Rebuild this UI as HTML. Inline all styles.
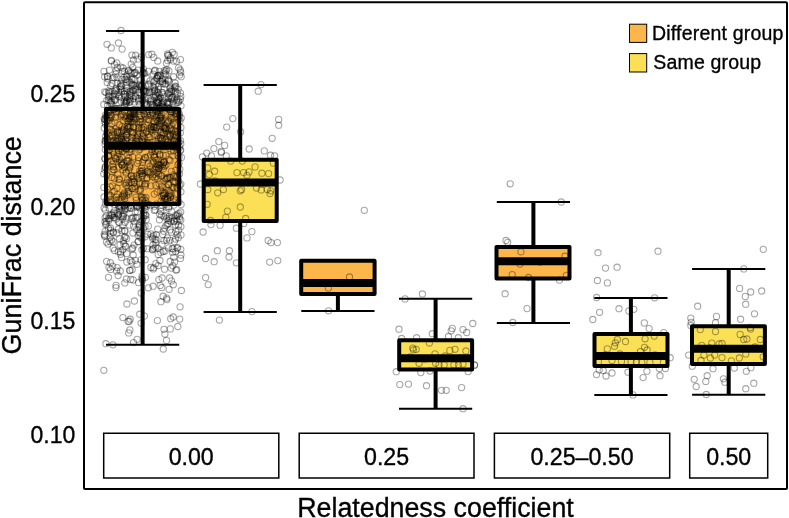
<!DOCTYPE html>
<html><head><meta charset="utf-8"><style>
html,body{margin:0;padding:0;background:#fff;}
svg{display:block;font-family:"Liberation Sans", sans-serif;}
text{filter:grayscale(1);stroke:#000;stroke-width:0.35px;}
</style></head><body>
<svg width="789" height="518" viewBox="0 0 789 518">
<rect x="0" y="0" width="789" height="518" fill="#fff"/>
<g><rect x="106.0" y="109.0" width="73.2" height="95.0" fill="#FCB64A"/><rect x="203.7" y="159.8" width="73.0" height="61.2" fill="#FBE055"/><rect x="301.2" y="260.8" width="73.4" height="33.2" fill="#FCB64A"/><rect x="399.2" y="340.2" width="72.9" height="29.3" fill="#FBE055"/><rect x="496.5" y="247.1" width="73.0" height="31.5" fill="#FCB64A"/><rect x="594.5" y="334.0" width="73.0" height="31.9" fill="#FBE055"/><rect x="692.0" y="326.3" width="72.9" height="37.6" fill="#FBE055"/></g>
<g fill="none" stroke="#000" stroke-opacity="0.35" stroke-width="1.1"><circle cx="173.6" cy="174.9" r="3.1"/><circle cx="113.2" cy="241.6" r="3.1"/><circle cx="145.2" cy="209.6" r="3.1"/><circle cx="107.5" cy="105.6" r="3.1"/><circle cx="176.9" cy="116.4" r="3.1"/><circle cx="117.0" cy="233.0" r="3.1"/><circle cx="135.6" cy="55.2" r="3.1"/><circle cx="146.2" cy="219.5" r="3.1"/><circle cx="159.7" cy="214.3" r="3.1"/><circle cx="176.7" cy="141.1" r="3.1"/><circle cx="161.0" cy="116.8" r="3.1"/><circle cx="130.7" cy="113.2" r="3.1"/><circle cx="109.5" cy="109.7" r="3.1"/><circle cx="158.8" cy="137.7" r="3.1"/><circle cx="179.5" cy="146.9" r="3.1"/><circle cx="104.9" cy="158.3" r="3.1"/><circle cx="164.0" cy="329.3" r="3.1"/><circle cx="117.3" cy="213.3" r="3.1"/><circle cx="139.5" cy="174.2" r="3.1"/><circle cx="144.4" cy="316.1" r="3.1"/><circle cx="151.5" cy="104.2" r="3.1"/><circle cx="180.8" cy="96.4" r="3.1"/><circle cx="157.2" cy="172.0" r="3.1"/><circle cx="134.2" cy="73.5" r="3.1"/><circle cx="159.4" cy="71.4" r="3.1"/><circle cx="140.0" cy="149.3" r="3.1"/><circle cx="135.8" cy="140.8" r="3.1"/><circle cx="132.1" cy="249.0" r="3.1"/><circle cx="142.1" cy="175.9" r="3.1"/><circle cx="125.5" cy="149.1" r="3.1"/><circle cx="122.5" cy="145.3" r="3.1"/><circle cx="115.2" cy="108.7" r="3.1"/><circle cx="137.9" cy="59.1" r="3.1"/><circle cx="126.5" cy="101.1" r="3.1"/><circle cx="168.9" cy="190.5" r="3.1"/><circle cx="169.7" cy="102.2" r="3.1"/><circle cx="130.4" cy="126.6" r="3.1"/><circle cx="151.9" cy="54.2" r="3.1"/><circle cx="174.0" cy="221.5" r="3.1"/><circle cx="131.6" cy="95.5" r="3.1"/><circle cx="146.9" cy="111.6" r="3.1"/><circle cx="138.2" cy="235.5" r="3.1"/><circle cx="154.3" cy="148.1" r="3.1"/><circle cx="178.5" cy="225.2" r="3.1"/><circle cx="114.4" cy="178.3" r="3.1"/><circle cx="178.9" cy="202.1" r="3.1"/><circle cx="155.5" cy="85.2" r="3.1"/><circle cx="165.7" cy="155.4" r="3.1"/><circle cx="153.1" cy="147.6" r="3.1"/><circle cx="171.5" cy="232.2" r="3.1"/><circle cx="129.0" cy="125.4" r="3.1"/><circle cx="158.8" cy="168.7" r="3.1"/><circle cx="124.2" cy="77.3" r="3.1"/><circle cx="143.3" cy="129.3" r="3.1"/><circle cx="156.8" cy="119.8" r="3.1"/><circle cx="119.3" cy="94.8" r="3.1"/><circle cx="108.4" cy="218.5" r="3.1"/><circle cx="165.3" cy="128.1" r="3.1"/><circle cx="166.7" cy="298.1" r="3.1"/><circle cx="155.5" cy="166.8" r="3.1"/><circle cx="128.7" cy="170.3" r="3.1"/><circle cx="154.9" cy="177.9" r="3.1"/><circle cx="110.1" cy="186.9" r="3.1"/><circle cx="155.3" cy="94.9" r="3.1"/><circle cx="148.5" cy="137.0" r="3.1"/><circle cx="151.7" cy="107.6" r="3.1"/><circle cx="138.5" cy="131.4" r="3.1"/><circle cx="121.2" cy="86.1" r="3.1"/><circle cx="160.2" cy="285.4" r="3.1"/><circle cx="139.8" cy="104.2" r="3.1"/><circle cx="161.7" cy="185.8" r="3.1"/><circle cx="132.0" cy="116.4" r="3.1"/><circle cx="110.4" cy="233.2" r="3.1"/><circle cx="145.9" cy="183.6" r="3.1"/><circle cx="152.2" cy="91.8" r="3.1"/><circle cx="175.5" cy="224.7" r="3.1"/><circle cx="172.8" cy="265.7" r="3.1"/><circle cx="108.1" cy="244.1" r="3.1"/><circle cx="163.8" cy="162.0" r="3.1"/><circle cx="124.0" cy="94.0" r="3.1"/><circle cx="158.0" cy="101.1" r="3.1"/><circle cx="133.2" cy="255.0" r="3.1"/><circle cx="128.7" cy="158.0" r="3.1"/><circle cx="141.7" cy="99.5" r="3.1"/><circle cx="145.0" cy="236.8" r="3.1"/><circle cx="157.8" cy="178.8" r="3.1"/><circle cx="153.4" cy="162.0" r="3.1"/><circle cx="156.5" cy="127.6" r="3.1"/><circle cx="133.6" cy="132.7" r="3.1"/><circle cx="156.4" cy="107.6" r="3.1"/><circle cx="130.5" cy="72.0" r="3.1"/><circle cx="151.0" cy="233.9" r="3.1"/><circle cx="139.4" cy="141.0" r="3.1"/><circle cx="147.5" cy="156.9" r="3.1"/><circle cx="105.0" cy="119.6" r="3.1"/><circle cx="142.5" cy="204.3" r="3.1"/><circle cx="120.8" cy="67.1" r="3.1"/><circle cx="133.7" cy="127.0" r="3.1"/><circle cx="109.4" cy="70.1" r="3.1"/><circle cx="154.8" cy="90.3" r="3.1"/><circle cx="173.3" cy="284.7" r="3.1"/><circle cx="131.3" cy="182.5" r="3.1"/><circle cx="111.8" cy="135.2" r="3.1"/><circle cx="152.0" cy="151.3" r="3.1"/><circle cx="113.5" cy="232.7" r="3.1"/><circle cx="173.1" cy="122.9" r="3.1"/><circle cx="113.2" cy="166.8" r="3.1"/><circle cx="131.8" cy="188.6" r="3.1"/><circle cx="142.2" cy="124.5" r="3.1"/><circle cx="112.8" cy="150.2" r="3.1"/><circle cx="128.5" cy="207.3" r="3.1"/><circle cx="125.1" cy="246.0" r="3.1"/><circle cx="159.2" cy="94.9" r="3.1"/><circle cx="180.5" cy="258.4" r="3.1"/><circle cx="131.9" cy="55.1" r="3.1"/><circle cx="165.3" cy="204.6" r="3.1"/><circle cx="114.5" cy="217.2" r="3.1"/><circle cx="148.8" cy="92.6" r="3.1"/><circle cx="137.4" cy="133.9" r="3.1"/><circle cx="126.1" cy="218.2" r="3.1"/><circle cx="167.7" cy="60.6" r="3.1"/><circle cx="161.8" cy="175.7" r="3.1"/><circle cx="114.1" cy="213.4" r="3.1"/><circle cx="126.4" cy="148.8" r="3.1"/><circle cx="167.5" cy="198.4" r="3.1"/><circle cx="181.0" cy="105.8" r="3.1"/><circle cx="151.3" cy="101.9" r="3.1"/><circle cx="171.6" cy="125.7" r="3.1"/><circle cx="180.4" cy="99.3" r="3.1"/><circle cx="161.4" cy="123.1" r="3.1"/><circle cx="153.9" cy="267.7" r="3.1"/><circle cx="120.9" cy="162.9" r="3.1"/><circle cx="132.5" cy="122.3" r="3.1"/><circle cx="152.2" cy="112.2" r="3.1"/><circle cx="175.9" cy="270.1" r="3.1"/><circle cx="127.1" cy="137.6" r="3.1"/><circle cx="134.4" cy="301.0" r="3.1"/><circle cx="105.3" cy="149.4" r="3.1"/><circle cx="157.9" cy="150.7" r="3.1"/><circle cx="138.2" cy="241.4" r="3.1"/><circle cx="165.8" cy="202.3" r="3.1"/><circle cx="121.8" cy="164.6" r="3.1"/><circle cx="155.1" cy="135.0" r="3.1"/><circle cx="156.1" cy="234.7" r="3.1"/><circle cx="139.8" cy="132.8" r="3.1"/><circle cx="118.3" cy="251.7" r="3.1"/><circle cx="135.0" cy="79.7" r="3.1"/><circle cx="161.7" cy="135.5" r="3.1"/><circle cx="118.4" cy="150.3" r="3.1"/><circle cx="110.6" cy="269.4" r="3.1"/><circle cx="139.7" cy="109.1" r="3.1"/><circle cx="121.9" cy="216.2" r="3.1"/><circle cx="166.0" cy="186.9" r="3.1"/><circle cx="167.3" cy="196.3" r="3.1"/><circle cx="177.3" cy="176.0" r="3.1"/><circle cx="169.1" cy="289.3" r="3.1"/><circle cx="154.1" cy="121.2" r="3.1"/><circle cx="118.2" cy="130.8" r="3.1"/><circle cx="167.8" cy="102.5" r="3.1"/><circle cx="160.4" cy="75.2" r="3.1"/><circle cx="161.9" cy="103.9" r="3.1"/><circle cx="158.0" cy="248.3" r="3.1"/><circle cx="168.3" cy="223.7" r="3.1"/><circle cx="126.8" cy="88.6" r="3.1"/><circle cx="156.1" cy="170.0" r="3.1"/><circle cx="143.9" cy="142.7" r="3.1"/><circle cx="130.0" cy="167.8" r="3.1"/><circle cx="129.1" cy="182.9" r="3.1"/><circle cx="115.7" cy="117.3" r="3.1"/><circle cx="141.9" cy="278.6" r="3.1"/><circle cx="132.4" cy="140.8" r="3.1"/><circle cx="136.5" cy="175.6" r="3.1"/><circle cx="170.0" cy="177.3" r="3.1"/><circle cx="156.8" cy="99.9" r="3.1"/><circle cx="156.7" cy="78.0" r="3.1"/><circle cx="180.4" cy="132.8" r="3.1"/><circle cx="120.6" cy="207.1" r="3.1"/><circle cx="143.2" cy="218.2" r="3.1"/><circle cx="110.8" cy="199.3" r="3.1"/><circle cx="134.2" cy="88.8" r="3.1"/><circle cx="177.7" cy="247.6" r="3.1"/><circle cx="110.3" cy="215.4" r="3.1"/><circle cx="162.7" cy="234.5" r="3.1"/><circle cx="171.1" cy="151.2" r="3.1"/><circle cx="143.3" cy="248.4" r="3.1"/><circle cx="165.8" cy="74.2" r="3.1"/><circle cx="138.0" cy="70.1" r="3.1"/><circle cx="131.2" cy="64.1" r="3.1"/><circle cx="143.0" cy="109.4" r="3.1"/><circle cx="118.8" cy="108.8" r="3.1"/><circle cx="127.6" cy="100.4" r="3.1"/><circle cx="127.4" cy="161.4" r="3.1"/><circle cx="180.7" cy="72.2" r="3.1"/><circle cx="129.7" cy="166.8" r="3.1"/><circle cx="121.5" cy="97.4" r="3.1"/><circle cx="176.9" cy="187.2" r="3.1"/><circle cx="114.4" cy="64.6" r="3.1"/><circle cx="178.9" cy="117.9" r="3.1"/><circle cx="170.2" cy="261.5" r="3.1"/><circle cx="154.1" cy="154.7" r="3.1"/><circle cx="137.0" cy="217.4" r="3.1"/><circle cx="119.0" cy="182.6" r="3.1"/><circle cx="111.9" cy="171.6" r="3.1"/><circle cx="111.7" cy="100.9" r="3.1"/><circle cx="130.8" cy="163.1" r="3.1"/><circle cx="135.4" cy="72.4" r="3.1"/><circle cx="175.6" cy="215.3" r="3.1"/><circle cx="145.4" cy="277.3" r="3.1"/><circle cx="180.9" cy="226.7" r="3.1"/><circle cx="159.8" cy="75.2" r="3.1"/><circle cx="115.0" cy="122.1" r="3.1"/><circle cx="146.8" cy="119.0" r="3.1"/><circle cx="116.0" cy="88.7" r="3.1"/><circle cx="106.7" cy="175.3" r="3.1"/><circle cx="177.2" cy="214.4" r="3.1"/><circle cx="130.0" cy="118.4" r="3.1"/><circle cx="118.4" cy="229.0" r="3.1"/><circle cx="111.5" cy="214.3" r="3.1"/><circle cx="154.5" cy="91.4" r="3.1"/><circle cx="139.6" cy="207.7" r="3.1"/><circle cx="104.5" cy="236.3" r="3.1"/><circle cx="159.4" cy="101.8" r="3.1"/><circle cx="123.6" cy="162.9" r="3.1"/><circle cx="164.5" cy="178.1" r="3.1"/><circle cx="141.7" cy="171.3" r="3.1"/><circle cx="145.4" cy="86.0" r="3.1"/><circle cx="139.3" cy="183.3" r="3.1"/><circle cx="156.3" cy="176.5" r="3.1"/><circle cx="180.8" cy="220.1" r="3.1"/><circle cx="165.8" cy="215.7" r="3.1"/><circle cx="109.0" cy="120.4" r="3.1"/><circle cx="142.2" cy="197.5" r="3.1"/><circle cx="121.9" cy="230.7" r="3.1"/><circle cx="111.6" cy="240.1" r="3.1"/><circle cx="118.8" cy="96.6" r="3.1"/><circle cx="123.0" cy="68.0" r="3.1"/><circle cx="178.5" cy="180.9" r="3.1"/><circle cx="161.7" cy="104.1" r="3.1"/><circle cx="170.1" cy="160.6" r="3.1"/><circle cx="158.1" cy="265.6" r="3.1"/><circle cx="128.2" cy="128.0" r="3.1"/><circle cx="134.1" cy="109.4" r="3.1"/><circle cx="138.0" cy="139.4" r="3.1"/><circle cx="126.5" cy="182.4" r="3.1"/><circle cx="136.5" cy="86.8" r="3.1"/><circle cx="163.8" cy="128.2" r="3.1"/><circle cx="109.5" cy="92.1" r="3.1"/><circle cx="125.2" cy="183.6" r="3.1"/><circle cx="141.0" cy="221.6" r="3.1"/><circle cx="156.3" cy="127.7" r="3.1"/><circle cx="154.0" cy="126.9" r="3.1"/><circle cx="160.1" cy="155.0" r="3.1"/><circle cx="111.8" cy="104.2" r="3.1"/><circle cx="117.7" cy="108.6" r="3.1"/><circle cx="127.7" cy="120.8" r="3.1"/><circle cx="125.6" cy="139.5" r="3.1"/><circle cx="162.5" cy="82.9" r="3.1"/><circle cx="181.1" cy="204.6" r="3.1"/><circle cx="156.9" cy="164.2" r="3.1"/><circle cx="106.2" cy="116.3" r="3.1"/><circle cx="126.8" cy="81.9" r="3.1"/><circle cx="166.2" cy="206.9" r="3.1"/><circle cx="175.7" cy="91.7" r="3.1"/><circle cx="150.0" cy="92.0" r="3.1"/><circle cx="130.8" cy="91.6" r="3.1"/><circle cx="131.3" cy="82.8" r="3.1"/><circle cx="153.0" cy="245.0" r="3.1"/><circle cx="171.0" cy="111.8" r="3.1"/><circle cx="130.2" cy="117.3" r="3.1"/><circle cx="118.5" cy="222.1" r="3.1"/><circle cx="103.8" cy="173.7" r="3.1"/><circle cx="114.3" cy="100.4" r="3.1"/><circle cx="170.0" cy="136.2" r="3.1"/><circle cx="152.3" cy="236.8" r="3.1"/><circle cx="180.9" cy="127.5" r="3.1"/><circle cx="109.0" cy="194.9" r="3.1"/><circle cx="132.1" cy="86.1" r="3.1"/><circle cx="165.7" cy="198.7" r="3.1"/><circle cx="155.2" cy="209.8" r="3.1"/><circle cx="108.8" cy="220.5" r="3.1"/><circle cx="134.9" cy="186.4" r="3.1"/><circle cx="153.3" cy="126.8" r="3.1"/><circle cx="157.2" cy="78.6" r="3.1"/><circle cx="138.8" cy="150.2" r="3.1"/><circle cx="118.3" cy="205.6" r="3.1"/><circle cx="178.9" cy="100.9" r="3.1"/><circle cx="140.0" cy="111.4" r="3.1"/><circle cx="159.6" cy="154.2" r="3.1"/><circle cx="145.3" cy="203.6" r="3.1"/><circle cx="109.9" cy="241.4" r="3.1"/><circle cx="122.1" cy="90.8" r="3.1"/><circle cx="108.5" cy="100.0" r="3.1"/><circle cx="118.5" cy="214.8" r="3.1"/><circle cx="119.2" cy="179.4" r="3.1"/><circle cx="136.0" cy="197.2" r="3.1"/><circle cx="128.7" cy="332.9" r="3.1"/><circle cx="131.9" cy="262.1" r="3.1"/><circle cx="167.3" cy="224.3" r="3.1"/><circle cx="105.3" cy="209.9" r="3.1"/><circle cx="111.7" cy="130.3" r="3.1"/><circle cx="166.6" cy="178.7" r="3.1"/><circle cx="145.2" cy="100.0" r="3.1"/><circle cx="137.8" cy="206.1" r="3.1"/><circle cx="124.5" cy="205.7" r="3.1"/><circle cx="145.9" cy="197.3" r="3.1"/><circle cx="120.9" cy="137.7" r="3.1"/><circle cx="170.6" cy="127.9" r="3.1"/><circle cx="167.9" cy="134.0" r="3.1"/><circle cx="128.7" cy="70.8" r="3.1"/><circle cx="105.5" cy="224.6" r="3.1"/><circle cx="172.8" cy="155.7" r="3.1"/><circle cx="126.9" cy="129.2" r="3.1"/><circle cx="154.8" cy="157.0" r="3.1"/><circle cx="170.5" cy="197.4" r="3.1"/><circle cx="165.9" cy="128.4" r="3.1"/><circle cx="170.9" cy="221.6" r="3.1"/><circle cx="141.8" cy="249.8" r="3.1"/><circle cx="169.3" cy="129.2" r="3.1"/><circle cx="139.6" cy="92.8" r="3.1"/><circle cx="124.2" cy="206.3" r="3.1"/><circle cx="141.1" cy="323.1" r="3.1"/><circle cx="129.8" cy="94.4" r="3.1"/><circle cx="163.4" cy="195.3" r="3.1"/><circle cx="168.5" cy="220.4" r="3.1"/><circle cx="114.6" cy="250.4" r="3.1"/><circle cx="116.4" cy="90.4" r="3.1"/><circle cx="133.5" cy="85.3" r="3.1"/><circle cx="139.7" cy="314.2" r="3.1"/><circle cx="178.2" cy="89.3" r="3.1"/><circle cx="177.1" cy="98.9" r="3.1"/><circle cx="179.0" cy="163.2" r="3.1"/><circle cx="160.5" cy="137.9" r="3.1"/><circle cx="156.4" cy="204.1" r="3.1"/><circle cx="124.7" cy="100.8" r="3.1"/><circle cx="132.7" cy="248.0" r="3.1"/><circle cx="103.8" cy="104.5" r="3.1"/><circle cx="168.6" cy="208.2" r="3.1"/><circle cx="125.1" cy="79.4" r="3.1"/><circle cx="109.8" cy="141.9" r="3.1"/><circle cx="128.2" cy="70.6" r="3.1"/><circle cx="128.8" cy="118.4" r="3.1"/><circle cx="160.1" cy="118.2" r="3.1"/><circle cx="104.0" cy="197.0" r="3.1"/><circle cx="121.5" cy="139.2" r="3.1"/><circle cx="173.5" cy="76.7" r="3.1"/><circle cx="170.3" cy="328.9" r="3.1"/><circle cx="152.7" cy="238.5" r="3.1"/><circle cx="147.2" cy="248.7" r="3.1"/><circle cx="121.0" cy="108.5" r="3.1"/><circle cx="171.9" cy="130.2" r="3.1"/><circle cx="162.9" cy="105.9" r="3.1"/><circle cx="143.6" cy="90.7" r="3.1"/><circle cx="116.2" cy="70.8" r="3.1"/><circle cx="120.4" cy="146.6" r="3.1"/><circle cx="133.2" cy="90.4" r="3.1"/><circle cx="129.4" cy="98.9" r="3.1"/><circle cx="108.4" cy="228.2" r="3.1"/><circle cx="135.3" cy="143.5" r="3.1"/><circle cx="138.6" cy="99.9" r="3.1"/><circle cx="126.0" cy="185.3" r="3.1"/><circle cx="133.6" cy="111.3" r="3.1"/><circle cx="129.5" cy="152.1" r="3.1"/><circle cx="133.0" cy="113.9" r="3.1"/><circle cx="151.9" cy="149.6" r="3.1"/><circle cx="142.4" cy="175.7" r="3.1"/><circle cx="119.0" cy="154.2" r="3.1"/><circle cx="165.6" cy="130.4" r="3.1"/><circle cx="143.6" cy="212.9" r="3.1"/><circle cx="139.4" cy="232.9" r="3.1"/><circle cx="159.2" cy="99.3" r="3.1"/><circle cx="162.3" cy="92.5" r="3.1"/><circle cx="169.8" cy="88.8" r="3.1"/><circle cx="166.9" cy="299.6" r="3.1"/><circle cx="155.8" cy="263.6" r="3.1"/><circle cx="159.8" cy="106.3" r="3.1"/><circle cx="115.9" cy="287.6" r="3.1"/><circle cx="158.1" cy="103.2" r="3.1"/><circle cx="123.4" cy="147.3" r="3.1"/><circle cx="123.7" cy="145.4" r="3.1"/><circle cx="113.0" cy="248.2" r="3.1"/><circle cx="134.6" cy="72.6" r="3.1"/><circle cx="105.2" cy="118.6" r="3.1"/><circle cx="154.8" cy="169.1" r="3.1"/><circle cx="162.0" cy="79.1" r="3.1"/><circle cx="164.1" cy="107.2" r="3.1"/><circle cx="113.7" cy="140.7" r="3.1"/><circle cx="153.6" cy="235.6" r="3.1"/><circle cx="169.0" cy="206.4" r="3.1"/><circle cx="106.4" cy="221.2" r="3.1"/><circle cx="118.7" cy="206.4" r="3.1"/><circle cx="124.5" cy="194.2" r="3.1"/><circle cx="139.6" cy="225.8" r="3.1"/><circle cx="117.0" cy="188.0" r="3.1"/><circle cx="145.6" cy="200.7" r="3.1"/><circle cx="130.4" cy="116.6" r="3.1"/><circle cx="154.7" cy="97.6" r="3.1"/><circle cx="145.0" cy="205.4" r="3.1"/><circle cx="157.1" cy="97.3" r="3.1"/><circle cx="122.8" cy="249.8" r="3.1"/><circle cx="158.8" cy="168.3" r="3.1"/><circle cx="160.9" cy="120.7" r="3.1"/><circle cx="159.9" cy="260.5" r="3.1"/><circle cx="108.9" cy="95.6" r="3.1"/><circle cx="177.4" cy="149.2" r="3.1"/><circle cx="148.6" cy="85.3" r="3.1"/><circle cx="124.8" cy="282.9" r="3.1"/><circle cx="137.5" cy="163.3" r="3.1"/><circle cx="144.0" cy="215.7" r="3.1"/><circle cx="144.0" cy="113.7" r="3.1"/><circle cx="122.9" cy="215.3" r="3.1"/><circle cx="124.3" cy="193.0" r="3.1"/><circle cx="132.0" cy="179.2" r="3.1"/><circle cx="164.5" cy="269.2" r="3.1"/><circle cx="137.7" cy="136.0" r="3.1"/><circle cx="106.6" cy="133.3" r="3.1"/><circle cx="138.9" cy="190.5" r="3.1"/><circle cx="119.3" cy="222.6" r="3.1"/><circle cx="104.6" cy="121.5" r="3.1"/><circle cx="179.8" cy="185.3" r="3.1"/><circle cx="126.5" cy="103.4" r="3.1"/><circle cx="145.5" cy="157.8" r="3.1"/><circle cx="131.5" cy="208.2" r="3.1"/><circle cx="107.8" cy="78.8" r="3.1"/><circle cx="173.9" cy="198.8" r="3.1"/><circle cx="176.6" cy="61.3" r="3.1"/><circle cx="118.1" cy="275.5" r="3.1"/><circle cx="136.2" cy="141.2" r="3.1"/><circle cx="132.7" cy="132.4" r="3.1"/><circle cx="116.6" cy="197.1" r="3.1"/><circle cx="155.2" cy="151.2" r="3.1"/><circle cx="164.6" cy="199.5" r="3.1"/><circle cx="162.9" cy="83.7" r="3.1"/><circle cx="156.3" cy="160.4" r="3.1"/><circle cx="105.0" cy="159.3" r="3.1"/><circle cx="121.5" cy="257.6" r="3.1"/><circle cx="143.7" cy="72.4" r="3.1"/><circle cx="158.4" cy="138.9" r="3.1"/><circle cx="133.7" cy="176.3" r="3.1"/><circle cx="138.6" cy="157.6" r="3.1"/><circle cx="169.2" cy="81.0" r="3.1"/><circle cx="105.4" cy="167.5" r="3.1"/><circle cx="124.5" cy="105.2" r="3.1"/><circle cx="126.2" cy="101.5" r="3.1"/><circle cx="181.0" cy="234.9" r="3.1"/><circle cx="121.3" cy="101.8" r="3.1"/><circle cx="107.3" cy="139.1" r="3.1"/><circle cx="136.1" cy="204.1" r="3.1"/><circle cx="154.3" cy="194.1" r="3.1"/><circle cx="115.6" cy="158.2" r="3.1"/><circle cx="169.1" cy="216.4" r="3.1"/><circle cx="118.9" cy="140.8" r="3.1"/><circle cx="158.5" cy="173.8" r="3.1"/><circle cx="116.2" cy="219.0" r="3.1"/><circle cx="172.4" cy="187.3" r="3.1"/><circle cx="119.3" cy="178.8" r="3.1"/><circle cx="160.6" cy="132.0" r="3.1"/><circle cx="169.0" cy="159.4" r="3.1"/><circle cx="123.5" cy="130.5" r="3.1"/><circle cx="110.8" cy="202.7" r="3.1"/><circle cx="149.3" cy="128.2" r="3.1"/><circle cx="142.5" cy="140.9" r="3.1"/><circle cx="141.0" cy="205.2" r="3.1"/><circle cx="164.5" cy="146.7" r="3.1"/><circle cx="139.7" cy="122.0" r="3.1"/><circle cx="142.4" cy="220.8" r="3.1"/><circle cx="141.6" cy="128.3" r="3.1"/><circle cx="139.1" cy="224.7" r="3.1"/><circle cx="135.2" cy="211.7" r="3.1"/><circle cx="116.2" cy="138.0" r="3.1"/><circle cx="126.6" cy="195.4" r="3.1"/><circle cx="124.3" cy="71.1" r="3.1"/><circle cx="123.0" cy="129.6" r="3.1"/><circle cx="164.7" cy="228.1" r="3.1"/><circle cx="112.5" cy="164.3" r="3.1"/><circle cx="119.6" cy="159.3" r="3.1"/><circle cx="144.7" cy="184.2" r="3.1"/><circle cx="128.0" cy="187.2" r="3.1"/><circle cx="122.3" cy="165.3" r="3.1"/><circle cx="132.7" cy="134.1" r="3.1"/><circle cx="142.8" cy="99.9" r="3.1"/><circle cx="156.2" cy="115.3" r="3.1"/><circle cx="179.4" cy="115.3" r="3.1"/><circle cx="170.1" cy="135.6" r="3.1"/><circle cx="137.1" cy="339.3" r="3.1"/><circle cx="138.8" cy="124.1" r="3.1"/><circle cx="136.0" cy="138.1" r="3.1"/><circle cx="122.2" cy="126.9" r="3.1"/><circle cx="177.8" cy="164.8" r="3.1"/><circle cx="109.0" cy="267.5" r="3.1"/><circle cx="119.6" cy="238.7" r="3.1"/><circle cx="155.2" cy="127.7" r="3.1"/><circle cx="149.6" cy="111.5" r="3.1"/><circle cx="125.3" cy="236.9" r="3.1"/><circle cx="176.7" cy="144.9" r="3.1"/><circle cx="135.5" cy="189.0" r="3.1"/><circle cx="150.1" cy="80.8" r="3.1"/><circle cx="110.7" cy="230.4" r="3.1"/><circle cx="173.1" cy="118.3" r="3.1"/><circle cx="111.6" cy="145.0" r="3.1"/><circle cx="134.3" cy="101.9" r="3.1"/><circle cx="172.7" cy="134.1" r="3.1"/><circle cx="177.3" cy="221.0" r="3.1"/><circle cx="174.1" cy="220.9" r="3.1"/><circle cx="168.2" cy="141.9" r="3.1"/><circle cx="121.8" cy="207.9" r="3.1"/><circle cx="106.1" cy="139.6" r="3.1"/><circle cx="138.8" cy="127.2" r="3.1"/><circle cx="108.5" cy="156.5" r="3.1"/><circle cx="178.5" cy="102.3" r="3.1"/><circle cx="104.2" cy="118.8" r="3.1"/><circle cx="129.0" cy="193.9" r="3.1"/><circle cx="119.5" cy="208.5" r="3.1"/><circle cx="104.7" cy="76.7" r="3.1"/><circle cx="142.5" cy="200.0" r="3.1"/><circle cx="109.5" cy="218.7" r="3.1"/><circle cx="173.8" cy="137.7" r="3.1"/><circle cx="157.2" cy="78.1" r="3.1"/><circle cx="132.5" cy="188.4" r="3.1"/><circle cx="169.2" cy="108.5" r="3.1"/><circle cx="165.8" cy="179.2" r="3.1"/><circle cx="129.1" cy="127.6" r="3.1"/><circle cx="169.7" cy="177.7" r="3.1"/><circle cx="176.1" cy="110.2" r="3.1"/><circle cx="152.0" cy="142.3" r="3.1"/><circle cx="131.0" cy="151.5" r="3.1"/><circle cx="173.8" cy="176.3" r="3.1"/><circle cx="177.1" cy="102.6" r="3.1"/><circle cx="130.7" cy="279.4" r="3.1"/><circle cx="110.3" cy="114.8" r="3.1"/><circle cx="171.3" cy="117.2" r="3.1"/><circle cx="155.5" cy="109.9" r="3.1"/><circle cx="121.7" cy="79.4" r="3.1"/><circle cx="147.8" cy="134.5" r="3.1"/><circle cx="127.6" cy="208.8" r="3.1"/><circle cx="175.3" cy="194.6" r="3.1"/><circle cx="130.3" cy="101.5" r="3.1"/><circle cx="118.9" cy="92.6" r="3.1"/><circle cx="107.0" cy="119.5" r="3.1"/><circle cx="130.3" cy="208.0" r="3.1"/><circle cx="180.8" cy="144.0" r="3.1"/><circle cx="120.6" cy="252.0" r="3.1"/><circle cx="139.3" cy="182.2" r="3.1"/><circle cx="179.4" cy="173.9" r="3.1"/><circle cx="104.1" cy="207.9" r="3.1"/><circle cx="126.6" cy="204.1" r="3.1"/><circle cx="167.7" cy="122.8" r="3.1"/><circle cx="111.1" cy="110.0" r="3.1"/><circle cx="176.0" cy="136.6" r="3.1"/><circle cx="168.7" cy="144.2" r="3.1"/><circle cx="114.8" cy="93.4" r="3.1"/><circle cx="149.8" cy="137.2" r="3.1"/><circle cx="146.9" cy="178.4" r="3.1"/><circle cx="157.7" cy="92.4" r="3.1"/><circle cx="127.5" cy="92.8" r="3.1"/><circle cx="133.6" cy="98.5" r="3.1"/><circle cx="122.4" cy="113.9" r="3.1"/><circle cx="126.4" cy="279.0" r="3.1"/><circle cx="117.3" cy="67.5" r="3.1"/><circle cx="174.1" cy="99.9" r="3.1"/><circle cx="172.8" cy="97.2" r="3.1"/><circle cx="131.7" cy="142.0" r="3.1"/><circle cx="157.7" cy="61.0" r="3.1"/><circle cx="141.8" cy="139.6" r="3.1"/><circle cx="125.5" cy="96.8" r="3.1"/><circle cx="130.9" cy="111.9" r="3.1"/><circle cx="178.9" cy="213.3" r="3.1"/><circle cx="130.2" cy="99.9" r="3.1"/><circle cx="148.7" cy="173.1" r="3.1"/><circle cx="177.3" cy="132.0" r="3.1"/><circle cx="126.8" cy="133.7" r="3.1"/><circle cx="166.7" cy="218.6" r="3.1"/><circle cx="112.5" cy="96.5" r="3.1"/><circle cx="160.8" cy="252.4" r="3.1"/><circle cx="166.5" cy="240.3" r="3.1"/><circle cx="168.9" cy="185.0" r="3.1"/><circle cx="179.7" cy="74.9" r="3.1"/><circle cx="159.1" cy="183.8" r="3.1"/><circle cx="179.8" cy="169.2" r="3.1"/><circle cx="125.3" cy="208.8" r="3.1"/><circle cx="144.3" cy="104.0" r="3.1"/><circle cx="120.3" cy="271.0" r="3.1"/><circle cx="110.1" cy="237.6" r="3.1"/><circle cx="137.8" cy="89.0" r="3.1"/><circle cx="159.7" cy="118.6" r="3.1"/><circle cx="164.3" cy="70.6" r="3.1"/><circle cx="104.9" cy="221.7" r="3.1"/><circle cx="177.1" cy="248.2" r="3.1"/><circle cx="122.9" cy="317.6" r="3.1"/><circle cx="126.4" cy="171.9" r="3.1"/><circle cx="168.5" cy="184.4" r="3.1"/><circle cx="173.3" cy="187.3" r="3.1"/><circle cx="161.0" cy="162.1" r="3.1"/><circle cx="129.6" cy="270.4" r="3.1"/><circle cx="139.7" cy="170.9" r="3.1"/><circle cx="168.7" cy="121.6" r="3.1"/><circle cx="131.5" cy="148.8" r="3.1"/><circle cx="166.4" cy="63.2" r="3.1"/><circle cx="164.6" cy="198.0" r="3.1"/><circle cx="140.2" cy="190.9" r="3.1"/><circle cx="173.5" cy="134.2" r="3.1"/><circle cx="133.6" cy="226.1" r="3.1"/><circle cx="162.1" cy="205.2" r="3.1"/><circle cx="153.5" cy="121.8" r="3.1"/><circle cx="129.4" cy="81.9" r="3.1"/><circle cx="145.1" cy="91.9" r="3.1"/><circle cx="150.9" cy="100.0" r="3.1"/><circle cx="145.5" cy="116.9" r="3.1"/><circle cx="112.2" cy="138.1" r="3.1"/><circle cx="180.9" cy="255.0" r="3.1"/><circle cx="179.0" cy="113.2" r="3.1"/><circle cx="106.5" cy="242.1" r="3.1"/><circle cx="177.3" cy="187.8" r="3.1"/><circle cx="145.1" cy="226.6" r="3.1"/><circle cx="113.4" cy="131.6" r="3.1"/><circle cx="167.6" cy="54.0" r="3.1"/><circle cx="137.4" cy="212.1" r="3.1"/><circle cx="159.2" cy="108.4" r="3.1"/><circle cx="168.1" cy="93.5" r="3.1"/><circle cx="145.6" cy="214.8" r="3.1"/><circle cx="107.5" cy="189.2" r="3.1"/><circle cx="167.8" cy="103.8" r="3.1"/><circle cx="157.7" cy="111.6" r="3.1"/><circle cx="174.6" cy="262.1" r="3.1"/><circle cx="124.7" cy="111.7" r="3.1"/><circle cx="164.8" cy="192.9" r="3.1"/><circle cx="171.7" cy="91.4" r="3.1"/><circle cx="131.3" cy="218.2" r="3.1"/><circle cx="135.6" cy="89.5" r="3.1"/><circle cx="129.7" cy="149.5" r="3.1"/><circle cx="104.0" cy="71.3" r="3.1"/><circle cx="121.7" cy="157.5" r="3.1"/><circle cx="129.5" cy="225.1" r="3.1"/><circle cx="112.1" cy="83.6" r="3.1"/><circle cx="163.3" cy="112.6" r="3.1"/><circle cx="136.9" cy="207.2" r="3.1"/><circle cx="147.9" cy="171.0" r="3.1"/><circle cx="125.8" cy="118.2" r="3.1"/><circle cx="131.7" cy="175.8" r="3.1"/><circle cx="162.4" cy="139.1" r="3.1"/><circle cx="140.2" cy="228.9" r="3.1"/><circle cx="150.1" cy="115.3" r="3.1"/><circle cx="136.6" cy="205.7" r="3.1"/><circle cx="147.0" cy="177.4" r="3.1"/><circle cx="173.6" cy="201.8" r="3.1"/><circle cx="124.5" cy="127.9" r="3.1"/><circle cx="144.1" cy="198.2" r="3.1"/><circle cx="157.2" cy="192.0" r="3.1"/><circle cx="110.4" cy="129.2" r="3.1"/><circle cx="178.6" cy="67.9" r="3.1"/><circle cx="142.5" cy="280.3" r="3.1"/><circle cx="122.7" cy="195.5" r="3.1"/><circle cx="162.9" cy="102.8" r="3.1"/><circle cx="167.2" cy="199.5" r="3.1"/><circle cx="152.8" cy="113.2" r="3.1"/><circle cx="175.1" cy="141.3" r="3.1"/><circle cx="110.5" cy="228.0" r="3.1"/><circle cx="144.8" cy="138.2" r="3.1"/><circle cx="161.5" cy="114.6" r="3.1"/><circle cx="175.1" cy="117.2" r="3.1"/><circle cx="153.6" cy="81.8" r="3.1"/><circle cx="150.6" cy="104.8" r="3.1"/><circle cx="133.9" cy="112.1" r="3.1"/><circle cx="148.2" cy="98.4" r="3.1"/><circle cx="146.9" cy="78.3" r="3.1"/><circle cx="174.2" cy="140.8" r="3.1"/><circle cx="168.1" cy="104.1" r="3.1"/><circle cx="161.1" cy="201.4" r="3.1"/><circle cx="175.7" cy="251.6" r="3.1"/><circle cx="108.8" cy="112.4" r="3.1"/><circle cx="163.6" cy="162.6" r="3.1"/><circle cx="139.8" cy="147.4" r="3.1"/><circle cx="162.2" cy="81.3" r="3.1"/><circle cx="126.7" cy="90.7" r="3.1"/><circle cx="140.1" cy="237.1" r="3.1"/><circle cx="167.9" cy="142.0" r="3.1"/><circle cx="106.3" cy="215.9" r="3.1"/><circle cx="126.3" cy="79.1" r="3.1"/><circle cx="141.7" cy="167.9" r="3.1"/><circle cx="170.0" cy="229.9" r="3.1"/><circle cx="124.7" cy="230.6" r="3.1"/><circle cx="167.8" cy="55.4" r="3.1"/><circle cx="122.7" cy="150.9" r="3.1"/><circle cx="127.2" cy="126.5" r="3.1"/><circle cx="146.8" cy="206.2" r="3.1"/><circle cx="154.6" cy="80.8" r="3.1"/><circle cx="172.2" cy="111.2" r="3.1"/><circle cx="172.2" cy="217.7" r="3.1"/><circle cx="123.1" cy="141.3" r="3.1"/><circle cx="161.8" cy="138.9" r="3.1"/><circle cx="153.1" cy="286.2" r="3.1"/><circle cx="133.7" cy="119.3" r="3.1"/><circle cx="164.1" cy="72.9" r="3.1"/><circle cx="173.6" cy="129.9" r="3.1"/><circle cx="141.0" cy="95.3" r="3.1"/><circle cx="175.1" cy="83.0" r="3.1"/><circle cx="113.6" cy="161.6" r="3.1"/><circle cx="116.6" cy="271.1" r="3.1"/><circle cx="163.2" cy="164.3" r="3.1"/><circle cx="127.4" cy="180.0" r="3.1"/><circle cx="149.3" cy="119.8" r="3.1"/><circle cx="142.4" cy="162.4" r="3.1"/><circle cx="115.0" cy="204.5" r="3.1"/><circle cx="162.4" cy="166.6" r="3.1"/><circle cx="161.4" cy="215.5" r="3.1"/><circle cx="114.9" cy="157.5" r="3.1"/><circle cx="123.9" cy="101.9" r="3.1"/><circle cx="166.0" cy="165.1" r="3.1"/><circle cx="174.8" cy="144.5" r="3.1"/><circle cx="171.5" cy="97.3" r="3.1"/><circle cx="142.7" cy="173.5" r="3.1"/><circle cx="132.3" cy="218.6" r="3.1"/><circle cx="138.3" cy="92.3" r="3.1"/><circle cx="117.4" cy="156.3" r="3.1"/><circle cx="142.3" cy="200.2" r="3.1"/><circle cx="121.6" cy="131.5" r="3.1"/><circle cx="116.2" cy="112.0" r="3.1"/><circle cx="133.3" cy="127.0" r="3.1"/><circle cx="108.6" cy="155.5" r="3.1"/><circle cx="140.3" cy="189.3" r="3.1"/><circle cx="157.9" cy="159.6" r="3.1"/><circle cx="154.4" cy="87.8" r="3.1"/><circle cx="179.7" cy="218.8" r="3.1"/><circle cx="172.7" cy="252.4" r="3.1"/><circle cx="153.0" cy="86.8" r="3.1"/><circle cx="173.6" cy="108.9" r="3.1"/><circle cx="138.3" cy="98.5" r="3.1"/><circle cx="165.9" cy="225.6" r="3.1"/><circle cx="125.8" cy="246.4" r="3.1"/><circle cx="144.7" cy="73.6" r="3.1"/><circle cx="180.0" cy="121.1" r="3.1"/><circle cx="150.3" cy="101.1" r="3.1"/><circle cx="143.1" cy="141.3" r="3.1"/><circle cx="165.0" cy="251.0" r="3.1"/><circle cx="128.0" cy="80.0" r="3.1"/><circle cx="168.4" cy="98.2" r="3.1"/><circle cx="105.0" cy="143.9" r="3.1"/><circle cx="122.2" cy="151.4" r="3.1"/><circle cx="117.4" cy="203.0" r="3.1"/><circle cx="123.7" cy="136.6" r="3.1"/><circle cx="177.4" cy="93.3" r="3.1"/><circle cx="105.5" cy="124.3" r="3.1"/><circle cx="126.9" cy="304.0" r="3.1"/><circle cx="148.4" cy="204.2" r="3.1"/><circle cx="158.4" cy="89.3" r="3.1"/><circle cx="164.0" cy="216.7" r="3.1"/><circle cx="133.5" cy="118.0" r="3.1"/><circle cx="120.8" cy="210.9" r="3.1"/><circle cx="170.1" cy="59.6" r="3.1"/><circle cx="113.1" cy="232.1" r="3.1"/><circle cx="108.7" cy="96.8" r="3.1"/><circle cx="121.7" cy="139.3" r="3.1"/><circle cx="142.0" cy="183.5" r="3.1"/><circle cx="177.1" cy="147.6" r="3.1"/><circle cx="160.5" cy="97.3" r="3.1"/><circle cx="147.6" cy="93.0" r="3.1"/><circle cx="144.3" cy="114.1" r="3.1"/><circle cx="157.7" cy="75.6" r="3.1"/><circle cx="152.5" cy="104.4" r="3.1"/><circle cx="129.8" cy="91.5" r="3.1"/><circle cx="110.8" cy="140.6" r="3.1"/><circle cx="119.3" cy="124.7" r="3.1"/><circle cx="164.7" cy="166.0" r="3.1"/><circle cx="153.1" cy="113.5" r="3.1"/><circle cx="165.8" cy="71.0" r="3.1"/><circle cx="107.1" cy="120.9" r="3.1"/><circle cx="173.9" cy="205.1" r="3.1"/><circle cx="133.4" cy="109.9" r="3.1"/><circle cx="175.8" cy="131.7" r="3.1"/><circle cx="150.0" cy="205.1" r="3.1"/><circle cx="146.3" cy="132.1" r="3.1"/><circle cx="167.4" cy="237.9" r="3.1"/><circle cx="152.4" cy="249.3" r="3.1"/><circle cx="156.2" cy="117.9" r="3.1"/><circle cx="115.9" cy="200.7" r="3.1"/><circle cx="150.7" cy="109.5" r="3.1"/><circle cx="131.4" cy="93.0" r="3.1"/><circle cx="109.5" cy="136.7" r="3.1"/><circle cx="114.0" cy="169.7" r="3.1"/><circle cx="141.0" cy="259.8" r="3.1"/><circle cx="124.1" cy="94.1" r="3.1"/><circle cx="163.3" cy="195.2" r="3.1"/><circle cx="113.1" cy="142.2" r="3.1"/><circle cx="104.7" cy="91.8" r="3.1"/><circle cx="181.4" cy="290.5" r="3.1"/><circle cx="128.0" cy="191.4" r="3.1"/><circle cx="143.4" cy="91.3" r="3.1"/><circle cx="120.0" cy="244.8" r="3.1"/><circle cx="119.9" cy="87.1" r="3.1"/><circle cx="135.0" cy="85.4" r="3.1"/><circle cx="165.2" cy="121.0" r="3.1"/><circle cx="106.6" cy="261.3" r="3.1"/><circle cx="168.9" cy="70.8" r="3.1"/><circle cx="180.8" cy="249.3" r="3.1"/><circle cx="147.2" cy="171.8" r="3.1"/><circle cx="131.7" cy="79.3" r="3.1"/><circle cx="121.8" cy="161.8" r="3.1"/><circle cx="117.9" cy="139.7" r="3.1"/><circle cx="128.8" cy="160.7" r="3.1"/><circle cx="170.0" cy="201.0" r="3.1"/><circle cx="103.9" cy="187.4" r="3.1"/><circle cx="164.9" cy="334.1" r="3.1"/><circle cx="155.7" cy="95.8" r="3.1"/><circle cx="105.1" cy="217.7" r="3.1"/><circle cx="109.0" cy="132.7" r="3.1"/><circle cx="160.9" cy="211.3" r="3.1"/><circle cx="156.1" cy="239.7" r="3.1"/><circle cx="128.1" cy="321.5" r="3.1"/><circle cx="170.8" cy="111.4" r="3.1"/><circle cx="120.0" cy="138.9" r="3.1"/><circle cx="136.9" cy="264.3" r="3.1"/><circle cx="112.6" cy="266.2" r="3.1"/><circle cx="154.0" cy="127.1" r="3.1"/><circle cx="110.4" cy="262.7" r="3.1"/><circle cx="117.6" cy="131.9" r="3.1"/><circle cx="163.4" cy="127.4" r="3.1"/><circle cx="142.6" cy="205.4" r="3.1"/><circle cx="155.2" cy="141.6" r="3.1"/><circle cx="160.8" cy="138.2" r="3.1"/><circle cx="150.9" cy="129.0" r="3.1"/><circle cx="119.0" cy="135.9" r="3.1"/><circle cx="158.1" cy="93.1" r="3.1"/><circle cx="112.6" cy="77.8" r="3.1"/><circle cx="124.6" cy="204.9" r="3.1"/><circle cx="138.6" cy="160.8" r="3.1"/><circle cx="112.5" cy="185.8" r="3.1"/><circle cx="111.9" cy="215.4" r="3.1"/><circle cx="154.5" cy="106.3" r="3.1"/><circle cx="161.5" cy="106.8" r="3.1"/><circle cx="132.5" cy="113.1" r="3.1"/><circle cx="134.0" cy="116.9" r="3.1"/><circle cx="119.8" cy="206.3" r="3.1"/><circle cx="144.3" cy="127.3" r="3.1"/><circle cx="148.9" cy="119.8" r="3.1"/><circle cx="176.4" cy="177.5" r="3.1"/><circle cx="106.8" cy="100.3" r="3.1"/><circle cx="174.5" cy="87.7" r="3.1"/><circle cx="180.9" cy="191.7" r="3.1"/><circle cx="130.6" cy="205.4" r="3.1"/><circle cx="160.2" cy="115.8" r="3.1"/><circle cx="167.9" cy="177.5" r="3.1"/><circle cx="154.4" cy="71.0" r="3.1"/><circle cx="126.1" cy="131.7" r="3.1"/><circle cx="152.2" cy="163.9" r="3.1"/><circle cx="172.0" cy="109.5" r="3.1"/><circle cx="111.9" cy="123.5" r="3.1"/><circle cx="141.0" cy="171.3" r="3.1"/><circle cx="105.4" cy="166.7" r="3.1"/><circle cx="169.5" cy="95.4" r="3.1"/><circle cx="164.3" cy="193.9" r="3.1"/><circle cx="107.2" cy="82.5" r="3.1"/><circle cx="161.8" cy="287.4" r="3.1"/><circle cx="157.5" cy="102.4" r="3.1"/><circle cx="113.4" cy="109.5" r="3.1"/><circle cx="144.6" cy="102.2" r="3.1"/><circle cx="157.4" cy="320.6" r="3.1"/><circle cx="129.8" cy="114.4" r="3.1"/><circle cx="142.9" cy="170.3" r="3.1"/><circle cx="179.7" cy="319.1" r="3.1"/><circle cx="153.2" cy="268.9" r="3.1"/><circle cx="142.8" cy="73.1" r="3.1"/><circle cx="108.7" cy="150.7" r="3.1"/><circle cx="113.1" cy="169.4" r="3.1"/><circle cx="170.0" cy="192.9" r="3.1"/><circle cx="161.5" cy="121.6" r="3.1"/><circle cx="168.7" cy="120.5" r="3.1"/><circle cx="148.7" cy="54.6" r="3.1"/><circle cx="148.5" cy="71.3" r="3.1"/><circle cx="145.0" cy="157.5" r="3.1"/><circle cx="160.9" cy="81.5" r="3.1"/><circle cx="129.4" cy="102.5" r="3.1"/><circle cx="142.3" cy="121.3" r="3.1"/><circle cx="140.2" cy="80.1" r="3.1"/><circle cx="155.2" cy="70.2" r="3.1"/><circle cx="120.5" cy="254.3" r="3.1"/><circle cx="105.6" cy="136.3" r="3.1"/><circle cx="110.5" cy="102.8" r="3.1"/><circle cx="117.6" cy="194.3" r="3.1"/><circle cx="170.5" cy="57.7" r="3.1"/><circle cx="159.5" cy="108.3" r="3.1"/><circle cx="162.1" cy="278.0" r="3.1"/><circle cx="138.2" cy="241.8" r="3.1"/><circle cx="111.6" cy="177.4" r="3.1"/><circle cx="139.9" cy="85.5" r="3.1"/><circle cx="170.9" cy="119.0" r="3.1"/><circle cx="143.3" cy="68.8" r="3.1"/><circle cx="152.9" cy="104.8" r="3.1"/><circle cx="132.8" cy="67.3" r="3.1"/><circle cx="115.3" cy="90.9" r="3.1"/><circle cx="152.5" cy="176.8" r="3.1"/><circle cx="141.4" cy="86.7" r="3.1"/><circle cx="130.6" cy="95.7" r="3.1"/><circle cx="123.8" cy="243.7" r="3.1"/><circle cx="157.9" cy="121.6" r="3.1"/><circle cx="128.4" cy="121.2" r="3.1"/><circle cx="148.5" cy="84.1" r="3.1"/><circle cx="123.9" cy="214.0" r="3.1"/><circle cx="162.4" cy="186.9" r="3.1"/><circle cx="132.8" cy="156.8" r="3.1"/><circle cx="140.9" cy="173.3" r="3.1"/><circle cx="176.0" cy="86.7" r="3.1"/><circle cx="159.6" cy="110.5" r="3.1"/><circle cx="161.0" cy="165.3" r="3.1"/><circle cx="130.1" cy="270.3" r="3.1"/><circle cx="169.1" cy="218.6" r="3.1"/><circle cx="133.7" cy="178.6" r="3.1"/><circle cx="180.7" cy="150.2" r="3.1"/><circle cx="173.5" cy="61.1" r="3.1"/><circle cx="155.0" cy="239.3" r="3.1"/><circle cx="168.5" cy="79.2" r="3.1"/><circle cx="146.0" cy="91.4" r="3.1"/><circle cx="160.8" cy="190.7" r="3.1"/><circle cx="113.3" cy="217.6" r="3.1"/><circle cx="180.7" cy="212.0" r="3.1"/><circle cx="166.0" cy="138.8" r="3.1"/><circle cx="114.7" cy="99.0" r="3.1"/><circle cx="122.5" cy="71.3" r="3.1"/><circle cx="148.4" cy="226.1" r="3.1"/><circle cx="163.1" cy="296.2" r="3.1"/><circle cx="115.2" cy="108.2" r="3.1"/><circle cx="178.5" cy="230.2" r="3.1"/><circle cx="130.6" cy="131.5" r="3.1"/><circle cx="181.2" cy="118.0" r="3.1"/><circle cx="162.3" cy="147.0" r="3.1"/><circle cx="141.5" cy="56.9" r="3.1"/><circle cx="131.9" cy="137.4" r="3.1"/><circle cx="111.1" cy="102.1" r="3.1"/><circle cx="110.5" cy="195.3" r="3.1"/><circle cx="152.7" cy="146.4" r="3.1"/><circle cx="163.9" cy="231.2" r="3.1"/><circle cx="174.4" cy="241.4" r="3.1"/><circle cx="132.1" cy="118.8" r="3.1"/><circle cx="176.7" cy="113.5" r="3.1"/><circle cx="126.8" cy="262.0" r="3.1"/><circle cx="176.9" cy="146.7" r="3.1"/><circle cx="175.3" cy="86.1" r="3.1"/><circle cx="115.7" cy="74.0" r="3.1"/><circle cx="170.7" cy="318.7" r="3.1"/><circle cx="158.5" cy="164.2" r="3.1"/><circle cx="158.4" cy="76.1" r="3.1"/><circle cx="169.2" cy="148.4" r="3.1"/><circle cx="145.5" cy="146.8" r="3.1"/><circle cx="143.1" cy="136.3" r="3.1"/><circle cx="132.2" cy="269.7" r="3.1"/><circle cx="171.1" cy="268.1" r="3.1"/><circle cx="173.9" cy="90.7" r="3.1"/><circle cx="116.1" cy="95.0" r="3.1"/><circle cx="163.8" cy="132.2" r="3.1"/><circle cx="125.1" cy="222.3" r="3.1"/><circle cx="117.9" cy="174.6" r="3.1"/><circle cx="119.0" cy="199.3" r="3.1"/><circle cx="148.3" cy="163.5" r="3.1"/><circle cx="125.4" cy="103.5" r="3.1"/><circle cx="122.5" cy="218.8" r="3.1"/><circle cx="111.3" cy="60.4" r="3.1"/><circle cx="128.9" cy="192.0" r="3.1"/><circle cx="164.0" cy="101.3" r="3.1"/><circle cx="105.3" cy="141.5" r="3.1"/><circle cx="141.2" cy="293.0" r="3.1"/><circle cx="150.6" cy="154.9" r="3.1"/><circle cx="107.5" cy="76.7" r="3.1"/><circle cx="126.5" cy="135.3" r="3.1"/><circle cx="174.3" cy="183.1" r="3.1"/><circle cx="181.2" cy="76.7" r="3.1"/><circle cx="169.9" cy="109.4" r="3.1"/><circle cx="116.8" cy="63.0" r="3.1"/><circle cx="163.2" cy="155.1" r="3.1"/><circle cx="138.8" cy="128.4" r="3.1"/><circle cx="116.9" cy="146.7" r="3.1"/><circle cx="141.1" cy="115.7" r="3.1"/><circle cx="175.6" cy="182.3" r="3.1"/><circle cx="172.0" cy="98.4" r="3.1"/><circle cx="134.1" cy="245.1" r="3.1"/><circle cx="108.5" cy="277.3" r="3.1"/><circle cx="173.8" cy="144.8" r="3.1"/><circle cx="180.5" cy="140.7" r="3.1"/><circle cx="143.5" cy="227.9" r="3.1"/><circle cx="121.2" cy="114.9" r="3.1"/><circle cx="146.0" cy="215.6" r="3.1"/><circle cx="157.9" cy="114.5" r="3.1"/><circle cx="141.2" cy="197.0" r="3.1"/><circle cx="131.1" cy="121.4" r="3.1"/><circle cx="122.9" cy="169.7" r="3.1"/><circle cx="126.8" cy="253.7" r="3.1"/><circle cx="107.5" cy="76.1" r="3.1"/><circle cx="123.5" cy="216.5" r="3.1"/><circle cx="177.9" cy="155.5" r="3.1"/><circle cx="104.2" cy="128.0" r="3.1"/><circle cx="160.3" cy="123.8" r="3.1"/><circle cx="165.1" cy="79.9" r="3.1"/><circle cx="135.2" cy="110.2" r="3.1"/><circle cx="150.0" cy="174.5" r="3.1"/><circle cx="120.8" cy="86.2" r="3.1"/><circle cx="155.7" cy="185.2" r="3.1"/><circle cx="158.8" cy="279.6" r="3.1"/><circle cx="160.9" cy="301.7" r="3.1"/><circle cx="142.0" cy="238.7" r="3.1"/><circle cx="179.3" cy="216.4" r="3.1"/><circle cx="171.2" cy="99.1" r="3.1"/><circle cx="148.3" cy="287.8" r="3.1"/><circle cx="156.8" cy="102.5" r="3.1"/><circle cx="125.0" cy="231.3" r="3.1"/><circle cx="177.2" cy="234.6" r="3.1"/><circle cx="153.9" cy="174.2" r="3.1"/><circle cx="173.4" cy="150.8" r="3.1"/><circle cx="126.1" cy="102.2" r="3.1"/><circle cx="180.2" cy="150.3" r="3.1"/><circle cx="111.8" cy="115.0" r="3.1"/><circle cx="145.0" cy="90.8" r="3.1"/><circle cx="112.2" cy="91.2" r="3.1"/><circle cx="118.4" cy="215.2" r="3.1"/><circle cx="163.2" cy="251.5" r="3.1"/><circle cx="108.8" cy="93.4" r="3.1"/><circle cx="133.5" cy="60.0" r="3.1"/><circle cx="118.5" cy="111.0" r="3.1"/><circle cx="169.9" cy="92.2" r="3.1"/><circle cx="110.0" cy="100.6" r="3.1"/><circle cx="129.9" cy="165.2" r="3.1"/><circle cx="170.4" cy="134.4" r="3.1"/><circle cx="157.2" cy="135.4" r="3.1"/><circle cx="158.5" cy="102.9" r="3.1"/><circle cx="180.9" cy="184.1" r="3.1"/><circle cx="105.4" cy="114.8" r="3.1"/><circle cx="155.5" cy="131.0" r="3.1"/><circle cx="161.7" cy="140.4" r="3.1"/><circle cx="162.0" cy="244.3" r="3.1"/><circle cx="159.3" cy="108.5" r="3.1"/><circle cx="109.2" cy="196.7" r="3.1"/><circle cx="110.1" cy="117.7" r="3.1"/><circle cx="163.9" cy="240.6" r="3.1"/><circle cx="151.3" cy="130.2" r="3.1"/><circle cx="124.1" cy="147.0" r="3.1"/><circle cx="104.3" cy="234.3" r="3.1"/><circle cx="145.2" cy="186.0" r="3.1"/><circle cx="110.7" cy="85.7" r="3.1"/><circle cx="162.0" cy="92.6" r="3.1"/><circle cx="130.2" cy="319.2" r="3.1"/><circle cx="166.6" cy="69.5" r="3.1"/><circle cx="111.1" cy="116.5" r="3.1"/><circle cx="142.1" cy="276.1" r="3.1"/><circle cx="111.4" cy="61.1" r="3.1"/><circle cx="164.5" cy="96.6" r="3.1"/><circle cx="147.3" cy="104.0" r="3.1"/><circle cx="121.9" cy="84.1" r="3.1"/><circle cx="178.7" cy="141.7" r="3.1"/><circle cx="156.8" cy="167.3" r="3.1"/><circle cx="129.8" cy="119.1" r="3.1"/><circle cx="170.3" cy="88.0" r="3.1"/><circle cx="133.2" cy="217.3" r="3.1"/><circle cx="177.1" cy="215.9" r="3.1"/><circle cx="126.8" cy="160.3" r="3.1"/><circle cx="180.4" cy="92.8" r="3.1"/><circle cx="108.5" cy="155.6" r="3.1"/><circle cx="160.9" cy="176.0" r="3.1"/><circle cx="126.3" cy="135.2" r="3.1"/><circle cx="136.7" cy="229.4" r="3.1"/><circle cx="153.2" cy="129.6" r="3.1"/><circle cx="107.2" cy="148.3" r="3.1"/><circle cx="121.0" cy="88.9" r="3.1"/><circle cx="111.7" cy="160.6" r="3.1"/><circle cx="161.3" cy="207.6" r="3.1"/><circle cx="120.9" cy="199.6" r="3.1"/><circle cx="142.5" cy="110.0" r="3.1"/><circle cx="129.2" cy="321.2" r="3.1"/><circle cx="122.0" cy="197.0" r="3.1"/><circle cx="176.5" cy="134.6" r="3.1"/><circle cx="143.2" cy="133.3" r="3.1"/><circle cx="154.3" cy="210.4" r="3.1"/><circle cx="158.5" cy="98.8" r="3.1"/><circle cx="167.6" cy="178.3" r="3.1"/><circle cx="124.1" cy="196.7" r="3.1"/><circle cx="109.7" cy="149.6" r="3.1"/><circle cx="140.0" cy="232.8" r="3.1"/><circle cx="116.9" cy="141.2" r="3.1"/><circle cx="105.2" cy="140.6" r="3.1"/><circle cx="175.3" cy="114.1" r="3.1"/><circle cx="152.5" cy="249.8" r="3.1"/><circle cx="135.9" cy="118.8" r="3.1"/><circle cx="114.2" cy="191.3" r="3.1"/><circle cx="163.0" cy="132.5" r="3.1"/><circle cx="145.2" cy="259.7" r="3.1"/><circle cx="117.2" cy="267.6" r="3.1"/><circle cx="180.2" cy="70.0" r="3.1"/><circle cx="177.8" cy="326.5" r="3.1"/><circle cx="175.9" cy="170.2" r="3.1"/><circle cx="168.1" cy="81.0" r="3.1"/><circle cx="145.1" cy="145.4" r="3.1"/><circle cx="127.0" cy="74.9" r="3.1"/><circle cx="154.4" cy="157.2" r="3.1"/><circle cx="115.4" cy="100.1" r="3.1"/><circle cx="151.7" cy="126.4" r="3.1"/><circle cx="108.8" cy="117.1" r="3.1"/><circle cx="104.7" cy="169.6" r="3.1"/><circle cx="159.4" cy="219.8" r="3.1"/><circle cx="130.3" cy="260.4" r="3.1"/><circle cx="158.0" cy="120.6" r="3.1"/><circle cx="164.4" cy="162.0" r="3.1"/><circle cx="168.8" cy="55.5" r="3.1"/><circle cx="151.6" cy="127.0" r="3.1"/><circle cx="169.6" cy="278.0" r="3.1"/><circle cx="155.0" cy="89.7" r="3.1"/><circle cx="175.9" cy="231.6" r="3.1"/><circle cx="173.6" cy="181.3" r="3.1"/><circle cx="107.0" cy="115.5" r="3.1"/><circle cx="124.5" cy="210.1" r="3.1"/><circle cx="133.9" cy="114.8" r="3.1"/><circle cx="123.3" cy="240.8" r="3.1"/><circle cx="117.4" cy="83.2" r="3.1"/><circle cx="171.7" cy="89.7" r="3.1"/><circle cx="105.6" cy="204.0" r="3.1"/><circle cx="117.8" cy="138.3" r="3.1"/><circle cx="162.9" cy="94.3" r="3.1"/><circle cx="121.0" cy="148.9" r="3.1"/><circle cx="123.8" cy="115.9" r="3.1"/><circle cx="179.1" cy="157.3" r="3.1"/><circle cx="163.1" cy="202.5" r="3.1"/><circle cx="138.6" cy="227.3" r="3.1"/><circle cx="114.2" cy="77.3" r="3.1"/><circle cx="124.6" cy="167.3" r="3.1"/><circle cx="180.1" cy="306.8" r="3.1"/><circle cx="165.3" cy="139.9" r="3.1"/><circle cx="109.1" cy="208.3" r="3.1"/><circle cx="158.7" cy="86.2" r="3.1"/><circle cx="132.9" cy="233.0" r="3.1"/><circle cx="159.8" cy="164.9" r="3.1"/><circle cx="126.6" cy="238.4" r="3.1"/><circle cx="113.8" cy="212.1" r="3.1"/><circle cx="105.1" cy="231.4" r="3.1"/><circle cx="126.7" cy="76.8" r="3.1"/><circle cx="170.7" cy="196.0" r="3.1"/><circle cx="173.1" cy="101.7" r="3.1"/><circle cx="156.9" cy="111.3" r="3.1"/><circle cx="161.9" cy="120.0" r="3.1"/><circle cx="118.8" cy="167.1" r="3.1"/><circle cx="131.2" cy="175.6" r="3.1"/><circle cx="173.7" cy="257.2" r="3.1"/><circle cx="180.5" cy="59.6" r="3.1"/><circle cx="138.2" cy="101.2" r="3.1"/><circle cx="164.1" cy="125.5" r="3.1"/><circle cx="176.4" cy="218.8" r="3.1"/><circle cx="181.4" cy="157.4" r="3.1"/><circle cx="126.7" cy="148.6" r="3.1"/><circle cx="154.6" cy="206.2" r="3.1"/><circle cx="134.0" cy="181.9" r="3.1"/><circle cx="139.9" cy="114.9" r="3.1"/><circle cx="139.6" cy="84.3" r="3.1"/><circle cx="125.3" cy="140.3" r="3.1"/><circle cx="105.1" cy="235.4" r="3.1"/><circle cx="163.4" cy="168.6" r="3.1"/><circle cx="157.9" cy="75.8" r="3.1"/><circle cx="169.2" cy="137.0" r="3.1"/><circle cx="115.6" cy="128.8" r="3.1"/><circle cx="122.1" cy="165.0" r="3.1"/><circle cx="150.1" cy="166.1" r="3.1"/><circle cx="176.7" cy="269.7" r="3.1"/><circle cx="140.4" cy="122.0" r="3.1"/><circle cx="119.3" cy="132.3" r="3.1"/><circle cx="150.0" cy="172.2" r="3.1"/><circle cx="178.3" cy="237.7" r="3.1"/><circle cx="171.3" cy="193.8" r="3.1"/><circle cx="173.7" cy="141.5" r="3.1"/><circle cx="135.6" cy="218.1" r="3.1"/><circle cx="124.1" cy="143.6" r="3.1"/><circle cx="171.5" cy="280.9" r="3.1"/><circle cx="165.1" cy="113.8" r="3.1"/><circle cx="170.0" cy="91.1" r="3.1"/><circle cx="134.1" cy="221.5" r="3.1"/><circle cx="125.9" cy="116.0" r="3.1"/><circle cx="122.3" cy="225.3" r="3.1"/><circle cx="171.5" cy="171.3" r="3.1"/><circle cx="175.3" cy="147.9" r="3.1"/><circle cx="132.2" cy="84.3" r="3.1"/><circle cx="171.8" cy="211.9" r="3.1"/><circle cx="133.3" cy="79.0" r="3.1"/><circle cx="138.5" cy="282.6" r="3.1"/><circle cx="147.8" cy="234.2" r="3.1"/><circle cx="120.9" cy="116.8" r="3.1"/><circle cx="124.5" cy="91.2" r="3.1"/><circle cx="124.4" cy="237.4" r="3.1"/><circle cx="123.9" cy="142.8" r="3.1"/><circle cx="143.8" cy="90.7" r="3.1"/><circle cx="111.4" cy="145.6" r="3.1"/><circle cx="164.5" cy="108.6" r="3.1"/><circle cx="117.2" cy="132.2" r="3.1"/><circle cx="138.2" cy="178.4" r="3.1"/><circle cx="153.7" cy="248.3" r="3.1"/><circle cx="114.4" cy="215.1" r="3.1"/><circle cx="135.5" cy="96.5" r="3.1"/><circle cx="147.5" cy="142.5" r="3.1"/><circle cx="146.5" cy="144.6" r="3.1"/><circle cx="173.2" cy="317.0" r="3.1"/><circle cx="164.8" cy="84.2" r="3.1"/><circle cx="113.0" cy="148.3" r="3.1"/><circle cx="168.6" cy="247.9" r="3.1"/><circle cx="146.5" cy="130.9" r="3.1"/><circle cx="156.5" cy="110.7" r="3.1"/><circle cx="116.1" cy="158.8" r="3.1"/><circle cx="140.4" cy="119.3" r="3.1"/><circle cx="158.2" cy="254.4" r="3.1"/><circle cx="165.8" cy="83.7" r="3.1"/><circle cx="166.5" cy="103.0" r="3.1"/><circle cx="120.5" cy="83.5" r="3.1"/><circle cx="168.6" cy="195.1" r="3.1"/><circle cx="147.9" cy="115.4" r="3.1"/><circle cx="155.8" cy="242.7" r="3.1"/><circle cx="170.0" cy="240.3" r="3.1"/><circle cx="135.2" cy="260.3" r="3.1"/><circle cx="175.3" cy="109.9" r="3.1"/><circle cx="172.3" cy="52.4" r="3.1"/><circle cx="166.6" cy="129.3" r="3.1"/><circle cx="133.2" cy="279.9" r="3.1"/><circle cx="144.8" cy="207.0" r="3.1"/><circle cx="117.1" cy="77.4" r="3.1"/><circle cx="162.8" cy="193.0" r="3.1"/><circle cx="173.1" cy="248.9" r="3.1"/><circle cx="116.1" cy="285.3" r="3.1"/><circle cx="161.7" cy="196.1" r="3.1"/><circle cx="157.7" cy="229.1" r="3.1"/><circle cx="106.4" cy="224.0" r="3.1"/><circle cx="175.1" cy="124.9" r="3.1"/><circle cx="141.0" cy="86.5" r="3.1"/><circle cx="124.6" cy="198.8" r="3.1"/><circle cx="106.0" cy="92.6" r="3.1"/><circle cx="164.6" cy="128.8" r="3.1"/><circle cx="129.9" cy="329.9" r="3.1"/><circle cx="143.7" cy="159.7" r="3.1"/><circle cx="118.8" cy="150.9" r="3.1"/><circle cx="150.9" cy="267.5" r="3.1"/><circle cx="134.6" cy="114.0" r="3.1"/><circle cx="166.5" cy="340.4" r="3.1"/><circle cx="155.6" cy="247.1" r="3.1"/><circle cx="159.9" cy="125.8" r="3.1"/><circle cx="123.2" cy="120.4" r="3.1"/><circle cx="108.6" cy="90.9" r="3.1"/><circle cx="172.2" cy="248.4" r="3.1"/><circle cx="176.6" cy="100.2" r="3.1"/><circle cx="153.8" cy="57.4" r="3.1"/><circle cx="175.5" cy="239.0" r="3.1"/><circle cx="158.7" cy="168.6" r="3.1"/><circle cx="150.9" cy="185.8" r="3.1"/><circle cx="136.3" cy="200.1" r="3.1"/><circle cx="131.3" cy="73.2" r="3.1"/><circle cx="141.8" cy="85.3" r="3.1"/><circle cx="121.0" cy="145.8" r="3.1"/><circle cx="137.0" cy="75.1" r="3.1"/><circle cx="143.2" cy="146.8" r="3.1"/><circle cx="106.0" cy="200.8" r="3.1"/><circle cx="134.3" cy="182.4" r="3.1"/><circle cx="125.8" cy="173.0" r="3.1"/><circle cx="153.1" cy="74.1" r="3.1"/><circle cx="166.9" cy="107.2" r="3.1"/><circle cx="103.8" cy="370.3" r="3.1"/><circle cx="121.0" cy="30.5" r="3.1"/><circle cx="107.0" cy="44.3" r="3.1"/><circle cx="111.3" cy="47.9" r="3.1"/><circle cx="118.5" cy="43.0" r="3.1"/><circle cx="122.1" cy="49.1" r="3.1"/><circle cx="174.2" cy="54.5" r="3.1"/><circle cx="105.9" cy="343.7" r="3.1"/><circle cx="112.9" cy="344.8" r="3.1"/><circle cx="133.5" cy="342.6" r="3.1"/><circle cx="163.3" cy="349.0" r="3.1"/><circle cx="261.0" cy="84.6" r="3.1"/><circle cx="258.2" cy="91.2" r="3.1"/><circle cx="232.8" cy="118.6" r="3.1"/><circle cx="278.7" cy="119.4" r="3.1"/><circle cx="278.7" cy="125.2" r="3.1"/><circle cx="226.7" cy="127.1" r="3.1"/><circle cx="240.6" cy="131.7" r="3.1"/><circle cx="272.2" cy="138.3" r="3.1"/><circle cx="218.8" cy="141.6" r="3.1"/><circle cx="224.6" cy="145.4" r="3.1"/><circle cx="213.9" cy="148.6" r="3.1"/><circle cx="249.2" cy="149.0" r="3.1"/><circle cx="221.3" cy="151.4" r="3.1"/><circle cx="221.3" cy="152.6" r="3.1"/><circle cx="264.3" cy="150.9" r="3.1"/><circle cx="206.8" cy="153.1" r="3.1"/><circle cx="270.5" cy="155.2" r="3.1"/><circle cx="274.6" cy="155.9" r="3.1"/><circle cx="202.4" cy="156.8" r="3.1"/><circle cx="211.4" cy="155.9" r="3.1"/><circle cx="226.2" cy="155.9" r="3.1"/><circle cx="207.8" cy="167.8" r="3.1"/><circle cx="214.6" cy="171.2" r="3.1"/><circle cx="209.2" cy="174.6" r="3.1"/><circle cx="236.9" cy="172.6" r="3.1"/><circle cx="243.6" cy="172.6" r="3.1"/><circle cx="249.0" cy="171.9" r="3.1"/><circle cx="247.0" cy="175.3" r="3.1"/><circle cx="255.1" cy="166.9" r="3.1"/><circle cx="261.9" cy="173.2" r="3.1"/><circle cx="268.6" cy="173.6" r="3.1"/><circle cx="273.4" cy="163.1" r="3.1"/><circle cx="230.8" cy="161.1" r="3.1"/><circle cx="242.3" cy="161.1" r="3.1"/><circle cx="200.4" cy="184.0" r="3.1"/><circle cx="280.1" cy="180.0" r="3.1"/><circle cx="207.8" cy="189.5" r="3.1"/><circle cx="217.7" cy="192.8" r="3.1"/><circle cx="223.4" cy="189.5" r="3.1"/><circle cx="240.3" cy="190.8" r="3.1"/><circle cx="241.6" cy="189.5" r="3.1"/><circle cx="256.5" cy="188.1" r="3.1"/><circle cx="261.2" cy="189.9" r="3.1"/><circle cx="267.3" cy="189.5" r="3.1"/><circle cx="270.0" cy="193.5" r="3.1"/><circle cx="270.7" cy="190.8" r="3.1"/><circle cx="207.2" cy="204.3" r="3.1"/><circle cx="240.3" cy="207.0" r="3.1"/><circle cx="227.4" cy="211.1" r="3.1"/><circle cx="225.8" cy="217.4" r="3.1"/><circle cx="245.7" cy="218.5" r="3.1"/><circle cx="210.5" cy="220.5" r="3.1"/><circle cx="210.9" cy="224.6" r="3.1"/><circle cx="220.1" cy="225.2" r="3.1"/><circle cx="203.1" cy="232.0" r="3.1"/><circle cx="236.4" cy="228.2" r="3.1"/><circle cx="243.8" cy="223.5" r="3.1"/><circle cx="251.9" cy="231.6" r="3.1"/><circle cx="247.0" cy="237.9" r="3.1"/><circle cx="268.2" cy="240.5" r="3.1"/><circle cx="271.0" cy="242.6" r="3.1"/><circle cx="277.4" cy="242.6" r="3.1"/><circle cx="217.3" cy="250.7" r="3.1"/><circle cx="229.4" cy="250.7" r="3.1"/><circle cx="229.0" cy="257.0" r="3.1"/><circle cx="205.6" cy="258.5" r="3.1"/><circle cx="214.1" cy="261.7" r="3.1"/><circle cx="236.4" cy="262.8" r="3.1"/><circle cx="269.7" cy="262.1" r="3.1"/><circle cx="277.8" cy="260.6" r="3.1"/><circle cx="205.6" cy="277.6" r="3.1"/><circle cx="208.2" cy="284.6" r="3.1"/><circle cx="251.9" cy="311.6" r="3.1"/><circle cx="219.4" cy="320.1" r="3.1"/><circle cx="215.0" cy="181.0" r="3.1"/><circle cx="262.0" cy="184.0" r="3.1"/><circle cx="230.0" cy="183.0" r="3.1"/><circle cx="364.3" cy="210.3" r="3.1"/><circle cx="349.5" cy="277.0" r="3.1"/><circle cx="328.4" cy="288.1" r="3.1"/><circle cx="328.6" cy="310.8" r="3.1"/><circle cx="405.1" cy="298.9" r="3.1"/><circle cx="422.4" cy="294.0" r="3.1"/><circle cx="399.0" cy="329.2" r="3.1"/><circle cx="472.8" cy="323.5" r="3.1"/><circle cx="452.3" cy="328.4" r="3.1"/><circle cx="451.2" cy="330.8" r="3.1"/><circle cx="463.0" cy="329.6" r="3.1"/><circle cx="466.7" cy="332.5" r="3.1"/><circle cx="432.3" cy="333.7" r="3.1"/><circle cx="448.5" cy="336.5" r="3.1"/><circle cx="416.6" cy="337.7" r="3.1"/><circle cx="458.3" cy="337.7" r="3.1"/><circle cx="401.6" cy="338.5" r="3.1"/><circle cx="429.4" cy="343.0" r="3.1"/><circle cx="412.8" cy="348.1" r="3.1"/><circle cx="416.2" cy="349.3" r="3.1"/><circle cx="413.4" cy="349.8" r="3.1"/><circle cx="449.9" cy="350.4" r="3.1"/><circle cx="455.0" cy="349.3" r="3.1"/><circle cx="465.9" cy="351.0" r="3.1"/><circle cx="435.0" cy="353.8" r="3.1"/><circle cx="419.1" cy="363.3" r="3.1"/><circle cx="435.6" cy="363.3" r="3.1"/><circle cx="439.0" cy="364.9" r="3.1"/><circle cx="444.2" cy="364.9" r="3.1"/><circle cx="453.9" cy="364.7" r="3.1"/><circle cx="458.4" cy="364.7" r="3.1"/><circle cx="463.0" cy="364.1" r="3.1"/><circle cx="474.4" cy="364.9" r="3.1"/><circle cx="396.3" cy="371.7" r="3.1"/><circle cx="420.8" cy="372.6" r="3.1"/><circle cx="430.0" cy="371.0" r="3.1"/><circle cx="399.8" cy="384.6" r="3.1"/><circle cx="408.5" cy="384.1" r="3.1"/><circle cx="426.5" cy="385.7" r="3.1"/><circle cx="441.5" cy="390.3" r="3.1"/><circle cx="446.2" cy="390.3" r="3.1"/><circle cx="461.6" cy="387.6" r="3.1"/><circle cx="463.0" cy="408.7" r="3.1"/><circle cx="468.2" cy="371.6" r="3.1"/><circle cx="474.6" cy="365.2" r="3.1"/><circle cx="410.0" cy="357.0" r="3.1"/><circle cx="425.0" cy="359.0" r="3.1"/><circle cx="445.0" cy="356.0" r="3.1"/><circle cx="460.0" cy="358.0" r="3.1"/><circle cx="510.2" cy="183.8" r="3.1"/><circle cx="561.2" cy="202.0" r="3.1"/><circle cx="506.0" cy="240.5" r="3.1"/><circle cx="507.7" cy="242.3" r="3.1"/><circle cx="520.9" cy="251.8" r="3.1"/><circle cx="565.0" cy="256.2" r="3.1"/><circle cx="512.2" cy="274.6" r="3.1"/><circle cx="528.6" cy="277.5" r="3.1"/><circle cx="566.4" cy="275.3" r="3.1"/><circle cx="559.5" cy="280.1" r="3.1"/><circle cx="505.1" cy="293.7" r="3.1"/><circle cx="527.0" cy="308.6" r="3.1"/><circle cx="512.8" cy="322.5" r="3.1"/><circle cx="540.0" cy="262.0" r="3.1"/><circle cx="520.0" cy="264.0" r="3.1"/><circle cx="598.0" cy="252.7" r="3.1"/><circle cx="658.0" cy="251.2" r="3.1"/><circle cx="605.5" cy="268.1" r="3.1"/><circle cx="617.1" cy="267.2" r="3.1"/><circle cx="597.4" cy="280.5" r="3.1"/><circle cx="607.4" cy="282.9" r="3.1"/><circle cx="596.6" cy="297.5" r="3.1"/><circle cx="654.6" cy="297.8" r="3.1"/><circle cx="599.6" cy="312.3" r="3.1"/><circle cx="592.8" cy="319.5" r="3.1"/><circle cx="619.0" cy="308.7" r="3.1"/><circle cx="628.9" cy="311.0" r="3.1"/><circle cx="633.8" cy="309.3" r="3.1"/><circle cx="644.3" cy="322.9" r="3.1"/><circle cx="649.1" cy="328.6" r="3.1"/><circle cx="663.7" cy="332.6" r="3.1"/><circle cx="617.4" cy="339.5" r="3.1"/><circle cx="615.4" cy="342.8" r="3.1"/><circle cx="614.5" cy="346.2" r="3.1"/><circle cx="607.3" cy="348.9" r="3.1"/><circle cx="625.5" cy="341.5" r="3.1"/><circle cx="645.1" cy="338.8" r="3.1"/><circle cx="654.2" cy="336.1" r="3.1"/><circle cx="644.5" cy="347.3" r="3.1"/><circle cx="647.2" cy="350.0" r="3.1"/><circle cx="640.4" cy="351.6" r="3.1"/><circle cx="598.5" cy="361.8" r="3.1"/><circle cx="612.0" cy="360.4" r="3.1"/><circle cx="621.5" cy="361.4" r="3.1"/><circle cx="631.0" cy="361.8" r="3.1"/><circle cx="636.4" cy="362.2" r="3.1"/><circle cx="641.8" cy="362.4" r="3.1"/><circle cx="649.9" cy="362.4" r="3.1"/><circle cx="663.4" cy="362.2" r="3.1"/><circle cx="670.1" cy="357.7" r="3.1"/><circle cx="596.5" cy="374.6" r="3.1"/><circle cx="599.2" cy="369.9" r="3.1"/><circle cx="603.2" cy="370.5" r="3.1"/><circle cx="606.0" cy="376.0" r="3.1"/><circle cx="612.0" cy="373.0" r="3.1"/><circle cx="628.0" cy="372.2" r="3.1"/><circle cx="643.1" cy="377.6" r="3.1"/><circle cx="646.9" cy="371.2" r="3.1"/><circle cx="660.0" cy="375.7" r="3.1"/><circle cx="659.3" cy="368.5" r="3.1"/><circle cx="633.0" cy="394.9" r="3.1"/><circle cx="665.4" cy="368.5" r="3.1"/><circle cx="605.0" cy="355.0" r="3.1"/><circle cx="620.0" cy="354.0" r="3.1"/><circle cx="635.0" cy="356.0" r="3.1"/><circle cx="655.0" cy="355.0" r="3.1"/><circle cx="763.3" cy="249.3" r="3.1"/><circle cx="743.8" cy="268.9" r="3.1"/><circle cx="739.6" cy="288.4" r="3.1"/><circle cx="750.7" cy="292.0" r="3.1"/><circle cx="761.7" cy="291.0" r="3.1"/><circle cx="745.3" cy="296.4" r="3.1"/><circle cx="745.7" cy="304.2" r="3.1"/><circle cx="697.7" cy="306.2" r="3.1"/><circle cx="754.5" cy="313.8" r="3.1"/><circle cx="716.5" cy="316.4" r="3.1"/><circle cx="690.8" cy="318.1" r="3.1"/><circle cx="740.6" cy="319.2" r="3.1"/><circle cx="691.2" cy="322.3" r="3.1"/><circle cx="715.5" cy="322.7" r="3.1"/><circle cx="690.8" cy="325.5" r="3.1"/><circle cx="750.3" cy="327.4" r="3.1"/><circle cx="700.3" cy="329.6" r="3.1"/><circle cx="715.5" cy="331.5" r="3.1"/><circle cx="740.1" cy="334.4" r="3.1"/><circle cx="743.7" cy="339.5" r="3.1"/><circle cx="746.9" cy="339.0" r="3.1"/><circle cx="760.3" cy="339.5" r="3.1"/><circle cx="750.6" cy="329.1" r="3.1"/><circle cx="711.8" cy="343.1" r="3.1"/><circle cx="719.1" cy="343.8" r="3.1"/><circle cx="722.0" cy="343.5" r="3.1"/><circle cx="701.7" cy="345.3" r="3.1"/><circle cx="703.9" cy="355.1" r="3.1"/><circle cx="710.4" cy="358.0" r="3.1"/><circle cx="714.7" cy="355.1" r="3.1"/><circle cx="722.0" cy="357.6" r="3.1"/><circle cx="739.3" cy="358.0" r="3.1"/><circle cx="745.8" cy="353.9" r="3.1"/><circle cx="763.2" cy="356.8" r="3.1"/><circle cx="701.0" cy="360.5" r="3.1"/><circle cx="688.7" cy="355.1" r="3.1"/><circle cx="731.4" cy="360.9" r="3.1"/><circle cx="692.3" cy="366.2" r="3.1"/><circle cx="713.0" cy="368.7" r="3.1"/><circle cx="734.3" cy="368.1" r="3.1"/><circle cx="746.3" cy="371.3" r="3.1"/><circle cx="750.9" cy="367.7" r="3.1"/><circle cx="694.2" cy="379.3" r="3.1"/><circle cx="707.2" cy="375.7" r="3.1"/><circle cx="705.8" cy="381.4" r="3.1"/><circle cx="696.2" cy="386.5" r="3.1"/><circle cx="723.4" cy="378.8" r="3.1"/><circle cx="724.9" cy="382.2" r="3.1"/><circle cx="745.8" cy="388.7" r="3.1"/><circle cx="753.8" cy="383.2" r="3.1"/><circle cx="706.3" cy="394.5" r="3.1"/><circle cx="710.0" cy="348.0" r="3.1"/><circle cx="730.0" cy="349.0" r="3.1"/><circle cx="755.0" cy="347.0" r="3.1"/></g>
<g stroke="#000" stroke-linecap="butt"><line x1="142.6" y1="31.0" x2="142.6" y2="109.0" stroke-width="4"/><line x1="142.6" y1="204.0" x2="142.6" y2="344.7" stroke-width="4"/><line x1="106.0" y1="31.0" x2="179.2" y2="31.0" stroke-width="2"/><line x1="106.0" y1="344.7" x2="179.2" y2="344.7" stroke-width="2"/><rect x="106.0" y="109.0" width="73.2" height="95.0" fill="none" stroke-width="4" stroke-linejoin="round"/><line x1="106.0" y1="145.8" x2="179.2" y2="145.8" stroke-width="8"/><line x1="240.2" y1="85.0" x2="240.2" y2="159.8" stroke-width="4"/><line x1="240.2" y1="221.0" x2="240.2" y2="312.0" stroke-width="4"/><line x1="203.6" y1="85.0" x2="276.8" y2="85.0" stroke-width="2"/><line x1="203.6" y1="312.0" x2="276.8" y2="312.0" stroke-width="2"/><rect x="203.7" y="159.8" width="73.0" height="61.2" fill="none" stroke-width="4" stroke-linejoin="round"/><line x1="203.7" y1="182.6" x2="276.7" y2="182.6" stroke-width="8"/><line x1="337.9" y1="294.0" x2="337.9" y2="311.1" stroke-width="4"/><line x1="301.3" y1="260.8" x2="374.5" y2="260.8" stroke-width="2"/><line x1="301.3" y1="311.1" x2="374.5" y2="311.1" stroke-width="2"/><rect x="301.2" y="260.8" width="73.4" height="33.2" fill="none" stroke-width="4" stroke-linejoin="round"/><line x1="301.2" y1="282.9" x2="374.6" y2="282.9" stroke-width="8"/><line x1="435.6" y1="298.7" x2="435.6" y2="340.2" stroke-width="4"/><line x1="435.6" y1="369.5" x2="435.6" y2="408.7" stroke-width="4"/><line x1="399.0" y1="298.7" x2="472.2" y2="298.7" stroke-width="2"/><line x1="399.0" y1="408.7" x2="472.2" y2="408.7" stroke-width="2"/><rect x="399.2" y="340.2" width="72.9" height="29.3" fill="none" stroke-width="4" stroke-linejoin="round"/><line x1="399.2" y1="358.2" x2="472.1" y2="358.2" stroke-width="8"/><line x1="533.4" y1="202.0" x2="533.4" y2="247.1" stroke-width="4"/><line x1="533.4" y1="278.6" x2="533.4" y2="322.9" stroke-width="4"/><line x1="496.8" y1="202.0" x2="570.0" y2="202.0" stroke-width="2"/><line x1="496.8" y1="322.9" x2="570.0" y2="322.9" stroke-width="2"/><rect x="496.5" y="247.1" width="73.0" height="31.5" fill="none" stroke-width="4" stroke-linejoin="round"/><line x1="496.5" y1="261.3" x2="569.5" y2="261.3" stroke-width="8"/><line x1="630.9" y1="297.9" x2="630.9" y2="334.0" stroke-width="4"/><line x1="630.9" y1="365.9" x2="630.9" y2="394.9" stroke-width="4"/><line x1="594.3" y1="297.9" x2="667.5" y2="297.9" stroke-width="2"/><line x1="594.3" y1="394.9" x2="667.5" y2="394.9" stroke-width="2"/><rect x="594.5" y="334.0" width="73.0" height="31.9" fill="none" stroke-width="4" stroke-linejoin="round"/><line x1="594.5" y1="355.9" x2="667.5" y2="355.9" stroke-width="8"/><line x1="728.7" y1="268.9" x2="728.7" y2="326.3" stroke-width="4"/><line x1="728.7" y1="363.9" x2="728.7" y2="394.8" stroke-width="4"/><line x1="692.1" y1="268.9" x2="765.3" y2="268.9" stroke-width="2"/><line x1="692.1" y1="394.8" x2="765.3" y2="394.8" stroke-width="2"/><rect x="692.0" y="326.3" width="72.9" height="37.6" fill="none" stroke-width="4" stroke-linejoin="round"/><line x1="692.0" y1="348.7" x2="764.9" y2="348.7" stroke-width="8"/></g>
<rect x="103.7" y="433.25" width="175.1" height="44.75" fill="#fff" stroke="#000" stroke-width="1.5"/><text x="191.2" y="465.0" text-anchor="middle" font-size="23.2">0.00</text><rect x="299.2" y="433.25" width="174.8" height="44.75" fill="#fff" stroke="#000" stroke-width="1.5"/><text x="386.6" y="465.0" text-anchor="middle" font-size="23.2">0.25</text><rect x="494.4" y="433.25" width="175.3" height="44.75" fill="#fff" stroke="#000" stroke-width="1.5"/><text x="582.0" y="465.0" text-anchor="middle" font-size="23.2">0.25–0.50</text><rect x="689.7" y="433.25" width="78.0" height="44.75" fill="#fff" stroke="#000" stroke-width="1.5"/><text x="728.7" y="465.0" text-anchor="middle" font-size="23.2">0.50</text>
<rect x="84" y="2.2" width="703" height="486.8" fill="none" stroke="#000" stroke-width="2" rx="1"/>
<text x="75.3" y="101.6" text-anchor="end" font-size="23">0.25</text><text x="75.3" y="215.2" text-anchor="end" font-size="23">0.20</text><text x="75.3" y="328.9" text-anchor="end" font-size="23">0.15</text><text x="75.3" y="442.5" text-anchor="end" font-size="23">0.10</text>
<text transform="translate(20.6,245.3) rotate(-90)" text-anchor="middle" font-size="26.9">GuniFrac distance</text>
<text x="435.5" y="517.4" text-anchor="middle" font-size="26.8">Relatedness coefficient</text>
<rect x="629.5" y="24.2" width="17.2" height="18.2" fill="#FCB64A" stroke="#000" stroke-width="1"/>
<rect x="629.5" y="53.6" width="17.2" height="18.4" fill="#FBE055" stroke="#000" stroke-width="1"/>
<text x="652" y="39.9" font-size="19.5" letter-spacing="0.2">Different group</text>
<text x="653.2" y="69.1" font-size="19.5" letter-spacing="0.2">Same group</text>
</svg>
</body></html>
